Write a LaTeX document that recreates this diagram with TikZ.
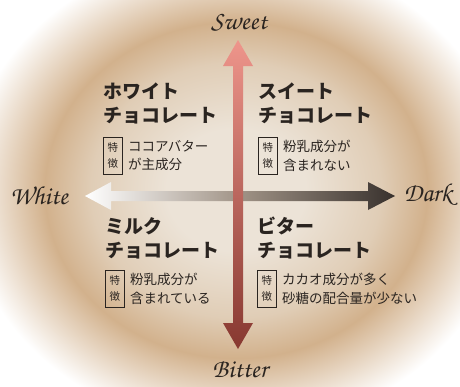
\documentclass[tikz,border=0pt]{standalone}
\usepackage[T1]{fontenc}
\usepackage{fontspec}
\newfontfamily\jp{Noto Sans CJK JP}
\newcommand\cursive{\usefont{T1}{pzc}{mb}{it}}
\usetikzlibrary{positioning}
\definecolor{sweetc}{HTML}{EE958B}
\definecolor{bitterc}{HTML}{873830}
\definecolor{darkc}{HTML}{38312D}
\definecolor{greyc}{HTML}{A09386}
\definecolor{inkc}{HTML}{2A2420}
\definecolor{bgin}{HTML}{ECE3D7}
\definecolor{bgmid}{HTML}{E0CDB6}
\definecolor{bgtan}{HTML}{D2B18C}
% the path edge is at 25bp
\pgfdeclareradialshading{chocobg}{\pgfpoint{0bp}{0bp}}{%
  color(0bp)=(bgin); color(6bp)=(bgin); color(12.5bp)=(bgmid);
  color(16.5bp)=(bgtan); color(23.5bp)=(white); color(50bp)=(white)}
\begin{document}
\begin{tikzpicture}[x=1pt,y=-1pt,
    title/.style={anchor=north west,inner sep=0pt,align=left,text=inkc,
      font=\jp\bfseries\fontsize{19}{24}\selectfont},
    tagbox/.style={anchor=north west,draw=inkc,line width=0.8pt,inner sep=0pt,
      minimum width=19pt,minimum height=37pt,align=center,text=inkc,
      font=\jp\fontsize{10.5}{16}\selectfont},
    feat/.style={anchor=north west,inner sep=0pt,align=left,text=inkc,
      font=\jp\fontsize{13.5}{18.5}\selectfont},
    axislabel/.style={text=inkc,font=\cursive\fontsize{26}{26}\selectfont}]
  \useasboundingbox (0,0) rectangle (460,386);
  \fill[white] (0,0) rectangle (460,386);
  \shade[shading=chocobg] (236,190) ellipse (290 and 255);
  % axes
  \coordinate (wtip) at (85,196);
  \coordinate (dtip) at (395,196);
  \coordinate (stip) at (238,40);
  \coordinate (btip) at (238,349);
  \shade[left color=white,right color=darkc,middle color=greyc]
    (wtip) -- ++(26,-14) -- ++(0,9) -- ++(257,0) -- ++(0,-9) -- (dtip)
    -- ++(-27,14) -- ++(0,-9) -- ++(-257,0) -- ++(0,9) -- cycle;
  \shade[top color=sweetc,bottom color=bitterc]
    (stip) -- ++(15,26) -- ++(-10,0) -- ++(0,257) -- ++(10,0) -- (btip)
    -- ++(-15,-26) -- ++(10,0) -- ++(0,-257) -- ++(-10,0) -- cycle;
  \node[axislabel] (sweet) at (239,22) {Sweet};
  \node[axislabel] (white) at (39,195) {White};
  \node[axislabel] (dark) at (428,195) {Dark};
  \node[axislabel] (bitter) at (240,369) {Bitter};
  % quadrants
  \node[title] (whiteT) at (103,83) {ホワイト\\チョコレート};
  \node[tagbox] (whiteK) at (103,137) {特\\徴};
  \node[feat,right=5pt of whiteK.north east,anchor=north west,yshift=-3pt]
    (whiteF) {ココアバター\\が主成分};
  \node[title] (sweetT) at (258,83) {スイート\\チョコレート};
  \node[tagbox] (sweetK) at (258,137) {特\\徴};
  \node[feat,right=5pt of sweetK.north east,anchor=north west,yshift=-3pt]
    (sweetF) {粉乳成分が\\含まれない};
  \node[title] (milkT) at (105,217) {ミルク\\チョコレート};
  \node[tagbox] (milkK) at (105,270) {特\\徴};
  \node[feat,right=5pt of milkK.north east,anchor=north west,yshift=-3pt]
    (milkF) {粉乳成分が\\含まれている};
  \node[title] (bitterT) at (257,217) {ビター\\チョコレート};
  \node[tagbox] (bitterK) at (257,270) {特\\徴};
  \node[feat,right=5pt of bitterK.north east,anchor=north west,yshift=-3pt]
    (bitterF) {カカオ成分が多く\\砂糖の配合量が少ない};
\end{tikzpicture}
\end{document}
